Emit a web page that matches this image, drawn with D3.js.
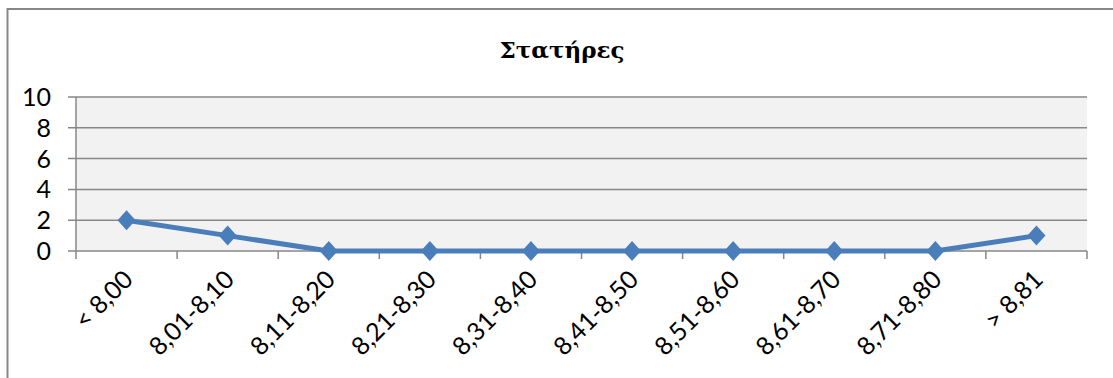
<!DOCTYPE html>
<html><head><meta charset="utf-8">
<script src="https://cdn.jsdelivr.net/npm/d3@7"></script>
<style>body{margin:0;background:#fff;}svg{display:block;}</style>
</head><body>
<svg id="chart" width="1113" height="378"></svg>
<script>
const title = "Στατήρες";
const categories = ["< 8,00","8,01-8,10","8,11-8,20","8,21-8,30","8,31-8,40","8,41-8,50","8,51-8,60","8,61-8,70","8,71-8,80","> 8,81"];
const values = [2,1,0,0,0,0,0,0,0,1];
const yTicks = [0,2,4,6,8,10];

const svg = d3.select("#chart");
const plot = {left:76, right:1087, top:97, bottom:251};

svg.append("rect").attr("x",7.5).attr("y",9).attr("width",1120).attr("height",400)
  .attr("fill","#fff").attr("stroke","#878787").attr("stroke-width",2);

svg.append("text").attr("x",562).attr("y",58).attr("text-anchor","middle")
  .style("font-family","'DejaVu Serif', serif")
  .style("font-weight","bold").style("font-size","23px")
  .attr("fill","#000").text(title);

const x = d3.scaleBand().domain(categories).range([plot.left, plot.right]);
const y = d3.scaleLinear().domain([0,10]).range([plot.bottom, plot.top]);

svg.append("rect").attr("x",plot.left).attr("y",plot.top)
  .attr("width",plot.right-plot.left).attr("height",plot.bottom-plot.top).attr("fill","#f2f2f2");

svg.append("g").selectAll("line").data(yTicks).join("line")
  .attr("x1",plot.left-8).attr("x2",plot.right).attr("y1",d=>y(d)).attr("y2",d=>y(d))
  .attr("stroke","#878787").attr("stroke-width",1.5);

svg.append("line").attr("x1",plot.left).attr("x2",plot.left).attr("y1",plot.top).attr("y2",plot.bottom)
  .attr("stroke","#878787").attr("stroke-width",1.5);

const bounds = categories.map(c=>x(c)).concat([plot.right]);
svg.append("g").selectAll("line").data(bounds).join("line")
  .attr("x1",d=>d).attr("x2",d=>d).attr("y1",plot.bottom).attr("y2",plot.bottom+8)
  .attr("stroke","#878787").attr("stroke-width",1.5);

svg.append("g").selectAll("text").data(yTicks).join("text")
  .attr("x",51).attr("y",d=>y(d)).attr("dy","0.36em").attr("text-anchor","end")
  .style("font-family","Lato").style("font-size","25px").attr("fill","#000").text(d=>d);

svg.append("g").selectAll("text").data(categories).join("text")
  .attr("transform",d=>`translate(${x(d)+x.bandwidth()/2+8},${plot.bottom+30}) rotate(-45)`)
  .attr("text-anchor","end")
  .style("font-family","Lato").style("font-size","25px").attr("fill","#000").text(d=>d);

const cx = d=>x(d)+x.bandwidth()/2;
svg.append("path").datum(categories.map((c,i)=>[cx(c),y(values[i])]))
  .attr("d",d3.line()).attr("fill","none").attr("stroke","#4a7ebb").attr("stroke-width",5)
  .attr("stroke-linejoin","round");

svg.append("g").selectAll("path").data(categories).join("path")
  .attr("transform",(c,i)=>`translate(${cx(c)},${y(values[i])})`)
  .attr("d","M0,-10L9,0L0,10L-9,0Z").attr("fill","#4a7ebb");
</script>
</body></html>
